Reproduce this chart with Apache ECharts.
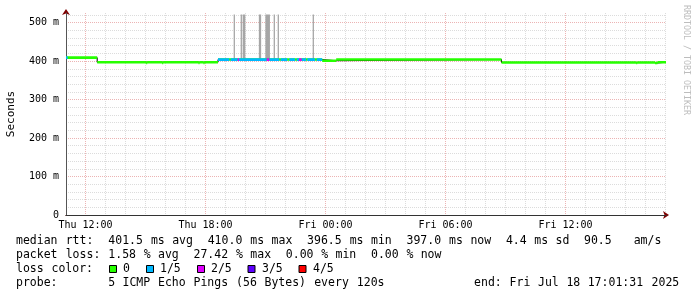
<!DOCTYPE html>
<html><head><meta charset="utf-8">
<script src="https://cdn.jsdelivr.net/npm/echarts@6/dist/echarts.min.js"></script>
<style>html,body{margin:0;padding:0;background:#fff}#c{width:697px;height:297px}</style>
</head><body><div id="c"></div>
<script>
// time in hours since Thu 00:00
const startT = 11.025, endT = 41.025;
const xTickValues = [12, 18, 24, 30, 36];
const xTickLabels = ['Thu 12:00', 'Thu 18:00', 'Fri 00:00', 'Fri 06:00', 'Fri 12:00'];
const yTickValues = [0, 100, 200, 300, 400, 500];
const yTickLabels = ['0', '100 m', '200 m', '300 m', '400 m', '500 m'];
const yMax = 525;

// median rtt (ms), step: value i holds from medianT[i] to medianT[i+1]
const medianT = [11.025, 12.585, 15.035, 15.085, 15.835, 15.885, 17.65, 17.7, 17.9, 17.95, 18.625, 23.835, 24.535, 32.8, 39.535, 39.585, 40.475, 40.6, 41.025];
const medianV = [409, 397, 395.5, 397, 395.5, 397, 395.5, 397, 395.5, 397, 404, 401, 404, 396.5, 395, 396.5, 395, 397];

// loss class per interval (0 = 0/5, 1 = 1/5, 2 = 2/5 ...)
const lossT = [11.025, 11.11, 18.625, 19.19, 19.26, 19.61, 19.675, 21.06, 21.19, 21.69, 21.76, 22.09, 22.19, 22.475, 22.56, 22.675, 22.81, 23.025, 23.09, 23.475, 23.56, 23.835, 41.025];
const lossClass = [1, 0, 1, 0, 1, 2, 1, 2, 1, 0, 1, 0, 1, 0, 1, 2, 1, 0, 1, 0, 1, 0];

// smoke (ping spread) columns, ms
const smokeT = [19.44, 19.79, 19.89, 19.925, 19.96, 20.7, 20.75, 21.025, 21.06, 21.09, 21.125, 21.16, 21.19, 21.44, 21.64, 23.39];
const smokeLow = [405, 405, 405, 405, 405, 405, 405, 405, 405, 405, 405, 405, 405, 405, 405, 405];
const smokeHigh = [521, 521, 521, 521, 521, 521, 521, 521, 521, 521, 521, 521, 521, 521, 521, 521];

const lossColors = ['#26ff00', '#00b8ff', '#e000ff', '#5e00ff', '#ff0000'];
const lossNames = ['0', '1/5', '2/5', '3/5', '4/5'];

const legendRow1 = 'median rtt:  401.5 ms avg  410.0 ms max  396.5 ms min  397.0 ms now  4.4 ms sd  90.5   am/s';
const legendRow2 = 'packet loss: 1.58 % avg  27.42 % max  0.00 % min  0.00 % now';
const legendRow3 = 'loss color:';
const legendRow4 = 'probe:       5 ICMP Echo Pings (56 Bytes) every 120s';
const legendEnd = 'end: Fri Jul 18 17:01:31 2025';
const watermark = 'RRDTOOL / TOBI OETIKER';
const yName = 'Seconds';

// ---- build ----
const minorX = [];
for (let h = Math.ceil(startT); h <= endT; h++) if (h % 6 !== 0) minorX.push(h);
const minorY = [];
for (let v = 20; v <= yMax; v += 20) if (v % 100 !== 0) minorY.push(v);

function medianAt(t) {
  for (let i = 0; i < medianV.length; i++) if (t >= medianT[i] - 1e-9 && t < medianT[i + 1] - 1e-9) return medianV[i];
  return medianV[medianV.length - 1];
}
const stepData = medianT.map((t, i) => [t, medianV[Math.min(i, medianV.length - 1)]]);
const greenData = [];
for (let i = 0; i < medianV.length; i++) {
  greenData.push([medianT[i], medianV[i]], [medianT[i + 1], medianV[i]], [medianT[i + 1], '-']);
}
function lossData(cls) {
  const d = [];
  for (let i = 0; i < lossClass.length; i++) {
    if (lossClass[i] !== cls) continue;
    const v = medianAt(lossT[i]);
    d.push([lossT[i], v], [lossT[i + 1], v], [lossT[i + 1], '-']);
  }
  return d;
}
const smokeData = [];
smokeT.forEach((t, i) => { smokeData.push([t, smokeLow[i]], [t, smokeHigh[i]], [t, '-']); });

const MONO = '"DejaVu Sans Mono", monospace';
const CW = 7.1, LX = 16;
const graphics = [];
function placeWords(str, x0, y) {
  const re = /\S+/g; let m;
  while ((m = re.exec(str))) {
    graphics.push({ type: 'text', x: x0 + m.index * CW, y: y, silent: true,
      style: { text: m[0], font: '11.5px ' + MONO, fill: '#000', textVerticalAlign: 'middle', verticalAlign: 'middle' } });
  }
}
placeWords(legendRow1, LX, 241);
placeWords(legendRow2, LX, 255);
placeWords(legendRow3, LX, 269);
placeWords(legendRow4, LX, 283);
placeWords(legendEnd, 680 - legendEnd.length * CW, 283);
const boxX = [109, 146, 197, 247.5, 298.5];
const boxTextX = [123, 160, 211, 262, 313];
lossNames.forEach((n, i) => {
  graphics.push({ type: 'rect', silent: true, shape: { x: boxX[i] + 0.5, y: 265.5, width: 7, height: 7 },
    style: { fill: lossColors[i], stroke: '#000', lineWidth: 1 } });
  graphics.push({ type: 'text', x: boxTextX[i], y: 269, silent: true,
    style: { text: n, font: '11.5px ' + MONO, fill: '#000', textVerticalAlign: 'middle', verticalAlign: 'middle' } });
});
graphics.push({ type: 'text', x: 11, y: 114, rotation: Math.PI / 2, silent: true,
  style: { text: yName, font: '11px ' + MONO, fill: '#000', textAlign: 'center', align: 'center', textVerticalAlign: 'middle', verticalAlign: 'middle' } });
graphics.push({ type: 'text', x: 686, y: 5, rotation: -Math.PI / 2, silent: true,
  style: { text: watermark, font: '8.3px ' + MONO, fill: '#bdbdbd', textAlign: 'left', align: 'left', textVerticalAlign: 'middle', verticalAlign: 'middle' } });

const chart = echarts.init(document.getElementById('c'), null, { renderer: 'canvas' });
chart.setOption({
  animation: false,
  backgroundColor: '#ffffff',
  grid: { left: 66, right: 31, top: 13, bottom: 82, containLabel: false },
  xAxis: [
    { type: 'value', min: startT, max: endT, position: 'bottom', z: 2,
      axisLine: { show: true, lineStyle: { color: '#333', width: 1 } },
      axisTick: { show: false, customValues: xTickValues },
      axisLabel: { show: true, customValues: xTickValues, margin: 5, color: '#000', fontSize: 10, fontFamily: MONO,
        formatter: v => xTickLabels[xTickValues.indexOf(v)] },
      splitLine: { show: true, lineStyle: { color: '#ecb4b4', type: [1, 1], width: 1 } } },
    { type: 'value', min: startT, max: endT, position: 'bottom', z: 0,
      axisLine: { show: true, symbol: ['none', 'arrow'], symbolSize: [6, 6], symbolOffset: [0, 3], lineStyle: { color: '#7f0000', width: 1 } },
      axisTick: { show: false, customValues: minorX },
      axisLabel: { show: false, customValues: minorX },
      splitLine: { show: true, lineStyle: { color: '#dcdcdc', type: [1, 1], width: 1 } } }
  ],
  yAxis: [
    { type: 'value', min: 0, max: yMax, position: 'left', z: 2,
      axisLine: { show: true, lineStyle: { color: '#555', width: 1 } },
      axisTick: { show: false, customValues: yTickValues },
      axisLabel: { show: true, customValues: yTickValues, margin: 7, color: '#000', fontSize: 10, fontFamily: MONO,
        formatter: v => yTickLabels[yTickValues.indexOf(v)] },
      splitLine: { show: true, lineStyle: { color: '#ecb4b4', type: [1, 1], width: 1 } } },
    { type: 'value', min: 0, max: yMax, position: 'left', z: 0,
      axisLine: { show: true, symbol: ['none', 'arrow'], symbolSize: [6, 6], symbolOffset: [0, 4], lineStyle: { color: '#7f0000', width: 1 } },
      axisTick: { show: false, customValues: minorY },
      axisLabel: { show: false, customValues: minorY },
      splitLine: { show: true, lineStyle: { color: '#dcdcdc', type: [1, 1], width: 1 } } }
  ],
  graphic: graphics,
  series: [
    { type: 'line', symbol: 'none', silent: true, connectNulls: false, clip: true,
      lineStyle: { color: '#a6a6a6', width: 1.3, cap: 'butt' }, data: smokeData },
    { type: 'line', step: 'end', symbol: 'none', silent: true, lineStyle: { color: '#000', width: 1 }, data: stepData },
    { type: 'line', symbol: 'none', silent: true, connectNulls: false, lineStyle: { color: lossColors[0], width: 2.6 }, data: greenData },
    { type: 'line', symbol: 'none', silent: true, connectNulls: false, lineStyle: { color: lossColors[1], width: 2.8 }, data: lossData(1) },
    { type: 'line', symbol: 'none', silent: true, connectNulls: false, lineStyle: { color: lossColors[2], width: 2.8 }, data: lossData(2) }
  ]
});
</script>
</body></html>
